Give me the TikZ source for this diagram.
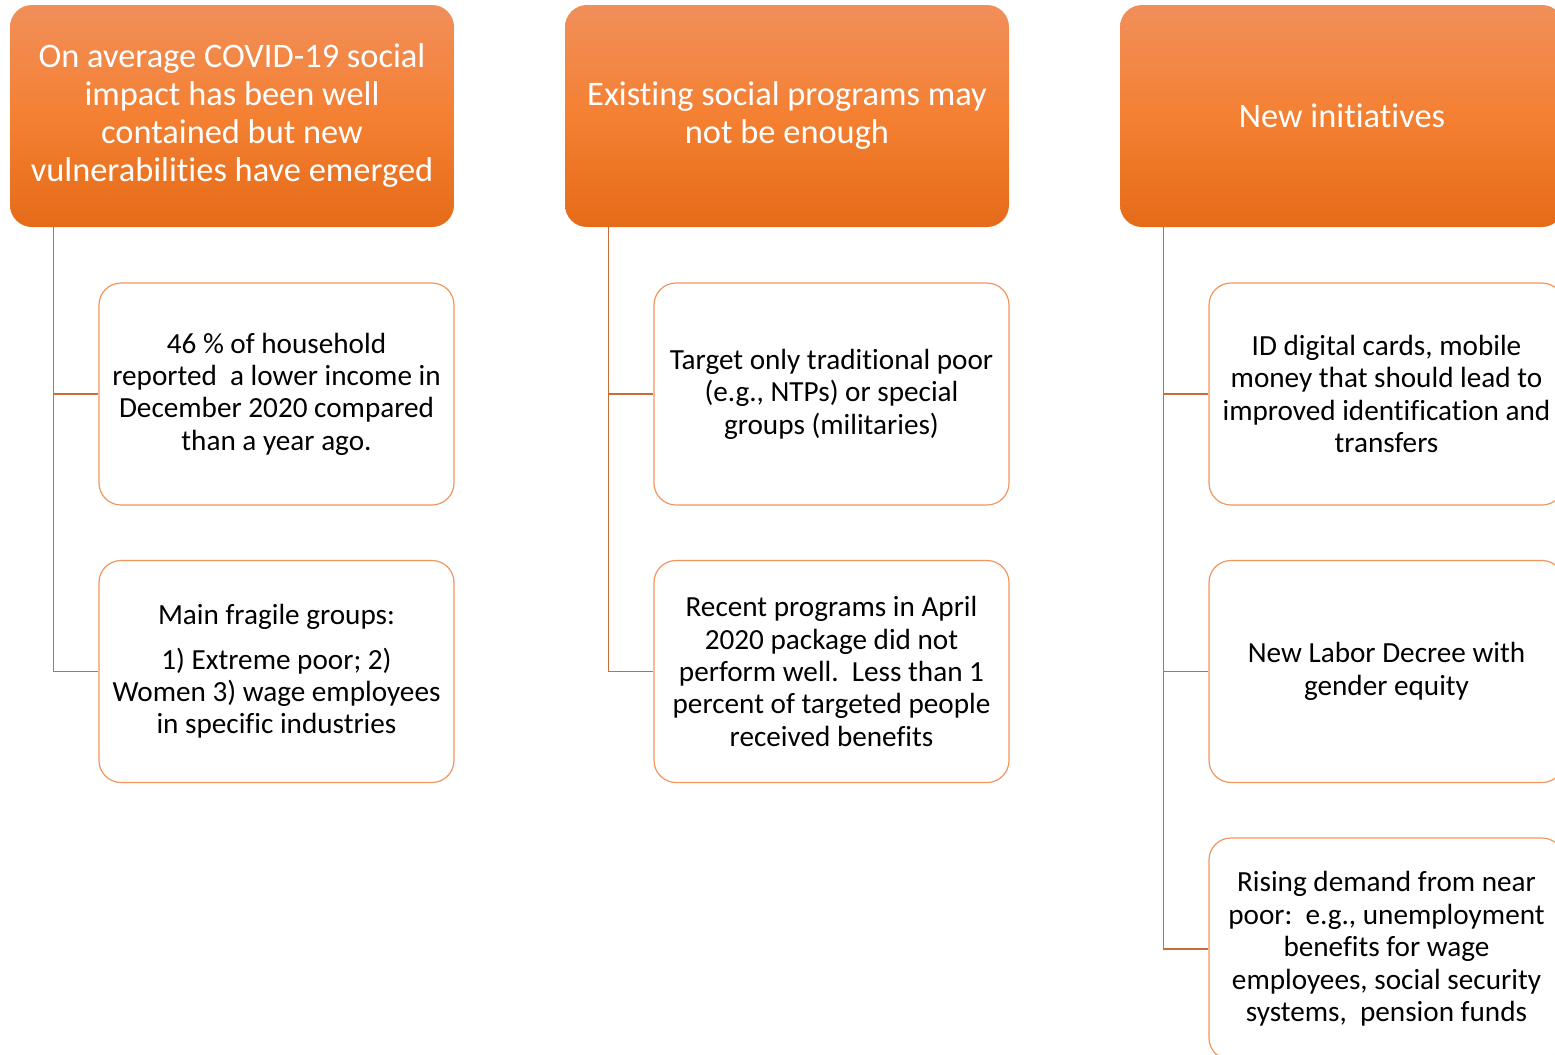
\documentclass[tikz,border=0pt]{standalone}
\usepackage{fontspec}
\setmainfont{Carlito}[Ligatures=NoCommon]
\usetikzlibrary{positioning}
\definecolor{hTop}{RGB}{241,143,90}
\definecolor{hMid}{RGB}{244,128,50}
\definecolor{hBot}{RGB}{229,107,24}
\definecolor{hLine}{RGB}{242,150,95}
\definecolor{hLink}{RGB}{200,108,56}
\tikzset{
  hhead/.style={rounded corners=11pt, minimum width=222pt, minimum height=111pt,
                inner sep=0pt, top color=hTop, bottom color=hBot, middle color=hMid,
                text=white, align=center, font=\fontsize{17.2}{19}\selectfont},
  hitem/.style={draw=hLine, line width=0.6pt, rounded corners=11pt, fill=white,
                minimum width=177.5pt, minimum height=111pt, inner sep=0pt,
                align=center, font=\fontsize{14.6}{16.2}\selectfont},
  hlink/.style={hLink, line width=0.7pt},
}
\begin{document}
\begin{tikzpicture}[x=0.5pt, y=-0.5pt]
    \useasboundingbox (0,0) rectangle (1555,1055);
    % first column
    \node[hhead] (h1)  at (232,116) {On average COVID-19 social\\impact has been well\\contained but new\\vulnerabilities have emerged};
    \node[hitem] (c11) at (276.5,394) {46 \% of household\\reported\ \ a lower income in\\December 2020 compared\\than a year ago.};
    \node[hitem] (c12) at (276.5,671.5) {Main fragile groups:\\[6pt]1) Extreme poor; 2)\\Women 3) wage employees\\in specific industries};
    % second column
    \node[hhead] (h2)  at (787,116) {Existing social programs may\\not be enough};
    \node[hitem] (c21) at (831.5,394) {Target only traditional poor\\(e.g., NTPs) or special\\groups (militaries)};
    \node[hitem] (c22) at (831.5,671.5) {Recent programs in April\\2020 package did not\\perform well.\ \ Less than 1\\percent of targeted people\\received benefits};
    % third column
    \node[hhead] (h3)  at (1342,116) {New initiatives};
    \node[hitem] (c31) at (1386.5,394) {ID digital cards, mobile\\money that should lead to\\improved identification and\\transfers};
    \node[hitem] (c32) at (1386.5,671.5) {New Labor Decree with\\gender equity};
    \node[hitem] (c33) at (1386.5,949) {Rising demand from near\\poor:\ \ e.g., unemployment\\benefits for wage\\employees, social security\\systems,\ \ pension funds};
    % connectors
    \draw[hlink] ([xshift=22pt]h1.south west) |- (c11.west);
    \draw[hlink] ([xshift=22pt]h1.south west) |- (c12.west);
    \draw[hlink] ([xshift=22pt]h2.south west) |- (c21.west);
    \draw[hlink] ([xshift=22pt]h2.south west) |- (c22.west);
    \draw[hlink] ([xshift=22pt]h3.south west) |- (c31.west);
    \draw[hlink] ([xshift=22pt]h3.south west) |- (c32.west);
    \draw[hlink] ([xshift=22pt]h3.south west) |- (c33.west);
\end{tikzpicture}
\end{document}
